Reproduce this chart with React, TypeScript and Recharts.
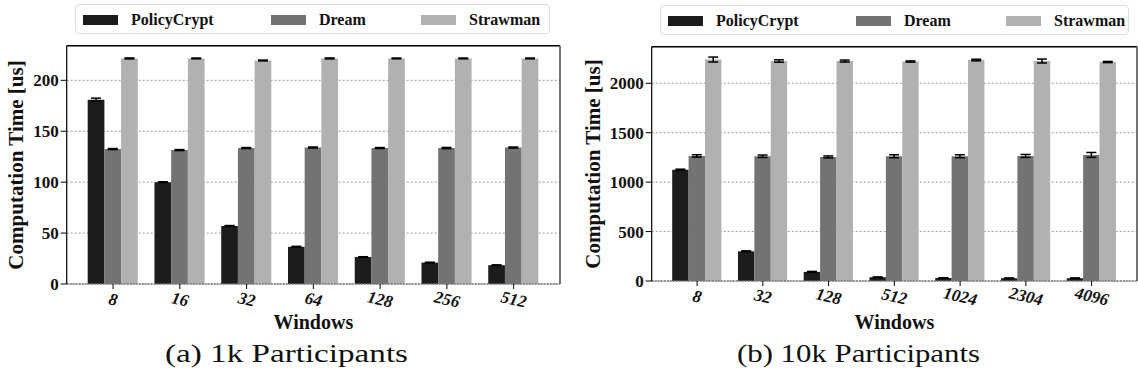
import { BarChart, Bar, XAxis, YAxis, CartesianGrid, ErrorBar } from 'recharts';

const windowsA = ['8', '16', '32', '64', '128', '256', '512'];
const policyA = [181, 100, 57, 36.5, 26.5, 21, 18.5];
const policyErrA = [1.5, 0.4, 0.4, 0.5, 0.3, 0.4, 0.3];
const dreamA = [132.5, 131.5, 133.5, 134, 133.5, 133.5, 134];
const dreamErrA = [0.5, 0.5, 0.5, 0.5, 0.5, 0.6, 0.5];
const strawA = [221.5, 221.5, 219.5, 221.5, 221.5, 221.5, 221.5];
const strawErrA = [0.5, 0.4, 0.4, 0.5, 0.4, 0.4, 0.4];
const yTicksA = [0, 50, 100, 150, 200];

const windowsB = ['8', '32', '128', '512', '1024', '2304', '4096'];
const policyB = [1125, 300, 92, 38, 30, 28, 28];
const policyErrB = [6, 5, 5, 3, 3, 3, 3];
const dreamB = [1265, 1262, 1255, 1262, 1262, 1265, 1275];
const dreamErrB = [12, 12, 10, 15, 15, 15, 25];
const strawB = [2240, 2225, 2225, 2220, 2235, 2225, 2215];
const strawErrB = [25, 12, 10, 6, 8, 20, 6];
const yTicksB = [0, 500, 1000, 1500, 2000];

const SERIES = [
  { key: 'policy', name: 'PolicyCrypt', color: '#1c1c1c' },
  { key: 'dream', name: 'Dream', color: '#737373' },
  { key: 'straw', name: 'Strawman', color: '#b1b1b1' },
];

const serif = '"Liberation Serif", "DejaVu Serif Condensed", "DejaVu Serif", serif';

const build = (w: string[], p: number[], pe: number[], d: number[], de: number[], s: number[], se: number[]) =>
  w.map((win, i) => ({ win, policy: p[i], policyErr: pe[i], dream: d[i], dreamErr: de[i], straw: s[i], strawErr: se[i] }));

const dataA = build(windowsA, policyA, policyErrA, dreamA, dreamErrA, strawA, strawErrA);
const dataB = build(windowsB, policyB, policyErrB, dreamB, dreamErrB, strawB, strawErrB);

function XTick({ x, y, payload }: any) {
  return (
    <g transform={`translate(${x},${y})`}>
      <text x={0} y={0} dy={14} textAnchor="middle" transform="rotate(13, 0, 9)"
        fontFamily={serif} fontWeight="bold" fontStyle="italic" fontSize={17} fill="#111">
        {payload.value}
      </text>
    </g>
  );
}

function LegendBox({ left, top, width }: { left: number; top: number; width: number }) {
  const offs = [7, 195, 345];
  return (
    <div style={{ position: 'absolute', left, top, width, height: 30, border: '1px solid #dcdcdc', borderRadius: 4, boxSizing: 'border-box' }}>
      {SERIES.map((s, i) => (
        <div key={s.key} style={{ position: 'absolute', left: offs[i], top: 0, height: 30, display: 'flex', alignItems: 'center' }}>
          <div style={{ width: 35, height: 10, background: s.color }} />
          <span style={{ marginLeft: 13, fontFamily: serif, fontWeight: 'bold', fontSize: 16, color: '#111' }}>{s.name}</span>
        </div>
      ))}
    </div>
  );
}

function Panel({ data, ticks, domain, left, width, yAxisWidth, top, bottom, pad, barSize, caption, captionX, yLabelX }: any) {
  const height = 389;
  const plotLeft = left + yAxisWidth;
  const plotRight = left + width - 1;
  const mid = (plotLeft + plotRight) / 2;
  return (
    <>
      <div style={{ position: 'absolute', left, top: 0 }}>
        <BarChart width={width} height={height} data={data} barGap={0} barSize={barSize}
          margin={{ top, right: 1, left: 0, bottom: height - bottom - 30 }}>
          <CartesianGrid vertical={false} stroke="#9a9a9a" strokeDasharray="2 2" />
          <XAxis dataKey="win" height={30} padding={{ left: pad, right: pad }} tick={<XTick />}
            tickSize={5} tickMargin={2} stroke="#000" axisLine={{ stroke: '#777', strokeDasharray: '2 1', strokeWidth: 1.5 }} />
          <YAxis width={yAxisWidth} domain={domain} ticks={ticks} interval={0} tickSize={6} tickMargin={2}
            stroke="#000" axisLine={{ stroke: '#000', strokeWidth: 1.2 }}
            tick={{ fontFamily: serif, fontWeight: 'bold', fontSize: 17, fill: '#111' }} />
          {SERIES.map(s => (
            <Bar key={s.key} dataKey={s.key} name={s.name} fill={s.color} isAnimationActive={false}>
              <ErrorBar dataKey={`${s.key}Err`} width={5} strokeWidth={1.5} stroke="#000" direction="y" />
            </Bar>
          ))}
        </BarChart>
      </div>
      <div style={{ position: 'absolute', left: yLabelX, top: (top + bottom) / 2, transform: 'translate(-50%, -50%) rotate(-90deg)',
        whiteSpace: 'nowrap', fontFamily: serif, fontWeight: 'bold', fontSize: 21, color: '#111' }}>
        Computation Time [us]
      </div>
      <div style={{ position: 'absolute', left: mid, top: 322, transform: 'translate(-50%, -50%)',
        whiteSpace: 'nowrap', fontFamily: serif, fontWeight: 'bold', fontSize: 20, color: '#111' }}>
        Windows
      </div>
      <svg style={{ position: 'absolute', left: 0, top: 0, pointerEvents: 'none' }} width={1138} height={389}>
        {/* frame: top and right spines */}
        <line x1={plotLeft} x2={plotRight} y1={top} y2={top} stroke="#000" strokeWidth={1.5} />
        <line x1={plotRight} x2={plotRight} y1={top} y2={bottom} stroke="#666" strokeWidth={1.8} />
        <text x={captionX} y={362} textLength={243} lengthAdjust="spacingAndGlyphs" fontFamily={serif} fontSize={26} fill="#111">
          {caption}
        </text>
      </svg>
    </>
  );
}

export default function App() {
  return (
    <div style={{ position: 'absolute', left: 0, top: 0, width: 1138, height: 389, background: '#fff', overflow: 'hidden' }}>
      <Panel data={dataA} ticks={yTicksA} domain={[0, 234]} left={0} width={561} yAxisWidth={66.7}
        top={45.7} bottom={284} pad={13} barSize={16.7} caption="(a) 1k Participants" captionX={165} yLabelX={16} />
      <Panel data={dataB} ticks={yTicksB} domain={[0, 2370]} left={570} width={568} yAxisWidth={81.7}
        top={46.7} bottom={281} pad={12.5} barSize={16.4} caption="(b) 10k Participants" captionX={737} yLabelX={593} />
      <LegendBox left={75} top={4} width={475} />
      <LegendBox left={660} top={5} width={469} />
    </div>
  );
}
